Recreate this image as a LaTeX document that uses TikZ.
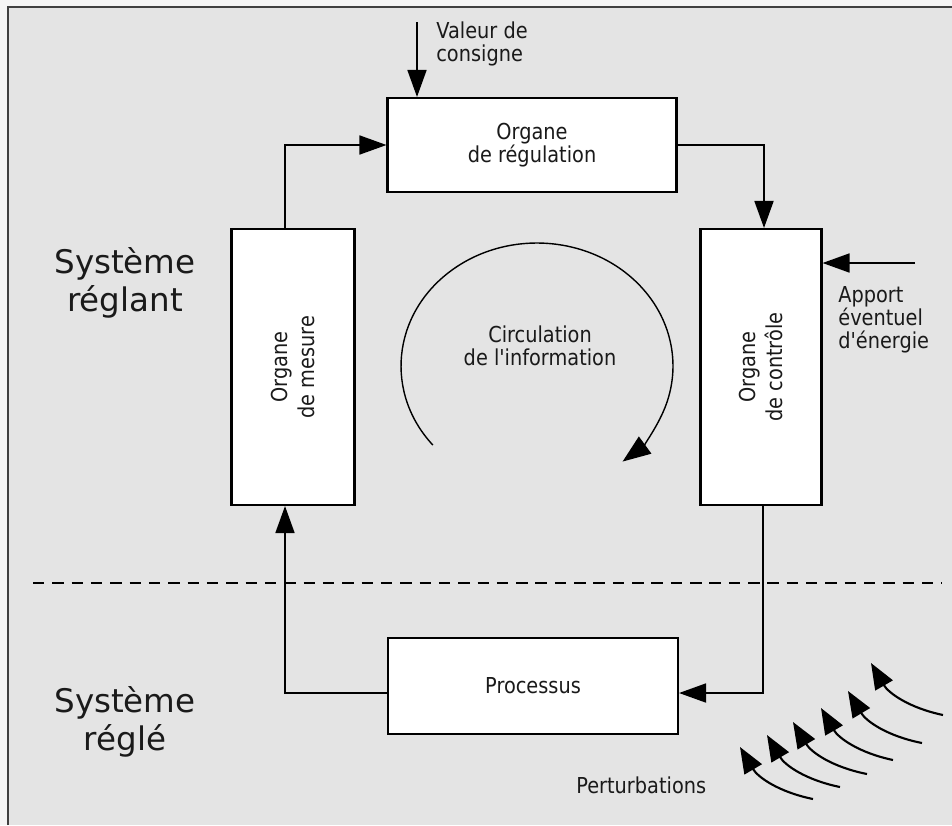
\documentclass[tikz,border=0pt]{standalone}
\usepackage{fontspec}
\setmainfont{DejaVu Sans}
\newfontfamily\narrowfont[FakeStretch=0.88]{DejaVu Sans}
\usetikzlibrary{arrows.meta}
\definecolor{fondgris}{HTML}{E4E4E4}
\definecolor{texte}{HTML}{1A1A1A}

\begin{document}
\begin{tikzpicture}[x=0.02cm, y=-0.02cm,
    >={Triangle[length=5.4mm, width=3.8mm]},
    box/.style={draw, line width=1.2pt, fill=white, inner sep=0pt},
    conn/.style={->, line width=1pt},
    lbl/.style={font=\narrowfont\fontsize{12.5}{13}\selectfont, text=texte, inner sep=0pt},
    big/.style={font=\fontsize{18.5}{22}\selectfont, text=texte, align=center, inner sep=0pt},
    perturb/.style={->, line width=1.2pt, >={Triangle[length=5.2mm, width=4mm]}}]
    % fond et cadre
    \useasboundingbox (0,0) rectangle (952,825);
    \fill[gray!8] (0,0) rectangle (952,825);
    \fill[fondgris] (8,7) rectangle (952,825);
    \draw[line width=1.2pt, black!75] (8,825) -- (8,7) -- (952,7);

    % organes
    \node[box, minimum width=5.78cm, minimum height=1.88cm] (reg) at (532,145) {};
    \node[lbl, align=center] (regtxt) at (reg) {Organe\\de régulation};
    \node[box, minimum width=2.46cm, minimum height=5.52cm] (mes) at (293,367) {};
    \node[lbl, align=center, rotate=90, font=\narrowfont\fontsize{12.5}{15.5}\selectfont] (mestxt) at (mes) {Organe\\de mesure};
    \node[box, minimum width=2.42cm, minimum height=5.52cm] (ctrl) at (761,367) {};
    \node[lbl, align=center, rotate=90, font=\narrowfont\fontsize{12.5}{15.5}\selectfont] (ctrltxt) at (ctrl) {Organe\\de contrôle};
    \node[box, minimum width=5.8cm, minimum height=1.92cm] (proc) at (533,686) {};
    \node[lbl] (proctxt) at (proc) {Processus};

    % boucle
    \draw[conn] ([xshift=-0.16cm]mes.north) |- (reg.west);
    \draw[conn] (reg.east) -| ([xshift=0.06cm]ctrl.north);
    \draw[conn] ([xshift=0.04cm]ctrl.south) |- ([yshift=-0.14cm]proc.east);
    \draw[conn] ([yshift=-0.14cm]proc.west) -| ([xshift=-0.16cm]mes.south);

    % entrees
    \coordinate (cons) at (417,22);
    \draw[conn] (cons) -- (cons |- reg.north);
    \node[lbl, align=left, anchor=west] (constxt) at (436,44) {Valeur de\\consigne};
    \coordinate (app) at (915,263);
    \draw[conn] (app) -- (app -| ctrl.east);
    \node[lbl, align=left, anchor=west] (apptxt) at (838,320) {Apport\\éventuel\\d'énergie};

    % circulation
    \coordinate (circ) at (537,366);
    \draw[->, line width=0.8pt, >={Triangle[length=5.6mm, width=4.2mm]}]
        ([shift={(220:2.72cm and 2.46cm)}]circ) arc[start angle=220, end angle=-51, x radius=2.72cm, y radius=2.46cm];
    \node[lbl, align=center] (circtxt) at (540,346) {Circulation\\de l'information};

    % separation
    \coordinate (sepg) at (33,583);
    \coordinate (sepd) at (942,583);
    \draw[line width=0.7pt, dash pattern=on 6.5pt off 4.5pt] (sepg) -- (sepd);

    \node[big] (reglant) at (125,283) {Système\\réglant};
    \node[big] (regle) at (125,722) {Système\\réglé};

    % perturbations
    \foreach \tx/\ty/\hx/\hy [count=\i] in {813/799/740/747, 840/787/767/735, 867/774/793/722, 893/760/821/708, 922/743/848/691, 943/715/871/663} {
        \coordinate (pq\i) at (\tx,\ty);
        \coordinate (pt\i) at (\hx,\hy);
        \draw[perturb] (pq\i) to[bend left=24] (pt\i);
    }
    \node[lbl, anchor=west] (perttxt) at (576,785) {Perturbations};
\end{tikzpicture}
\end{document}
